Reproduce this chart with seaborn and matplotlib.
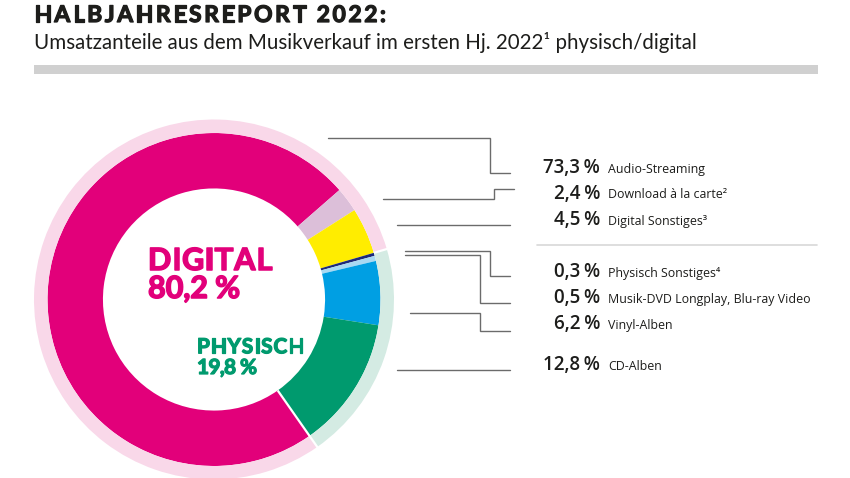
import numpy as np
import matplotlib
matplotlib.use("Agg")
import matplotlib.pyplot as plt
import matplotlib.patheffects as pe
import seaborn as sns

# data
categories = ["Audio-Streaming", "Download à la carte²", "Digital Sonstiges³",
              "Physisch Sonstiges⁴", "Musik-DVD Longplay, Blu-ray Video", "Vinyl-Alben", "CD-Alben"]
shares = [73.3, 2.4, 4.5, 0.3, 0.5, 6.2, 12.8]
groups = ["digital", "digital", "digital", "physisch", "physisch", "physisch", "physisch"]
share_labels = ["73,3\u2009%", "2,4\u2009%", "4,5\u2009%", "0,3\u2009%", "0,5\u2009%", "6,2\u2009%", "12,8\u2009%"]
group_names = ["DIGITAL", "PHYSISCH"]
group_labels = ["80,2 %", "19,8 %"]

# styles
seg_colors = ["#e2007a", "#dcbfd9", "#ffed00", "#1d2a7a", "#a9d9f2", "#009fe3", "#009a6e"]
ring_colors = ["#f9d8e9", "#d4ebe3"]
text_dark = "#1d1d1b"
line_gray = "#6b6b6b"
start = -55

# layout (pixels, y down)
W, H = 850, 478
cx, cy, R = 214, 299.5, 180
r_main = 0.925
r_hole = 0.617
label_baselines = [172.7, 198.5, 225, 276.5, 302.7, 328.5, 370]
leaders = [
    [(328, 138), (490, 138), (490, 172.7), (510, 172.7)],
    [(383, 199), (494, 199), (494, 189), (514, 189)],
    [(397, 225), (510, 225)],
    [(405, 251.3), (490, 251.3), (490, 276), (510, 276)],
    [(405, 255.3), (480, 255.3), (480, 302.7), (510, 302.7)],
    [(410, 313.3), (480, 313.3), (480, 330.7), (510, 330.7)],
    [(397, 370), (510, 370)],
]
lbl_font = ["Open Sans", "DejaVu Sans"]

sns.set_theme(style="white")
plt.rcParams["font.family"] = ["Lato", "DejaVu Sans"]

fig = plt.figure(figsize=(W / 100, H / 100), dpi=100)
fig.patch.set_facecolor("white")

ax_pie = fig.add_axes([(cx - R) / W, (H - cy - R) / H, 2 * R / W, 2 * R / H])
ax_pie.pie(shares, colors=seg_colors, startangle=start, counterclock=False,
           radius=r_main, wedgeprops=dict(width=r_main - r_hole, linewidth=0))
totals = [sum(s for s, g in zip(shares, groups) if g == "digital"),
          sum(s for s, g in zip(shares, groups) if g == "physisch")]
ax_pie.pie(totals[::-1], colors=ring_colors[::-1], startangle=start, counterclock=True,
           radius=1.0, wedgeprops=dict(width=1.0 - r_main, linewidth=0))

# white gaps at the digital / physisch boundaries
b1 = np.deg2rad(start)
b2 = np.deg2rad(start + totals[1] / 100 * 360)
ax_pie.plot([r_hole * np.cos(b1), 1.01 * np.cos(b1)], [r_hole * np.sin(b1), 1.01 * np.sin(b1)],
            color="white", lw=1.6, solid_capstyle="butt")
ax_pie.plot([r_main * np.cos(b2), 1.01 * np.cos(b2)], [r_main * np.sin(b2), 1.01 * np.sin(b2)],
            color="white", lw=1.6, solid_capstyle="butt")
ax_pie.set_xlim(-1, 1)
ax_pie.set_ylim(-1, 1)
ax_pie.set_aspect("equal")
ax_pie.axis("off")

ax = fig.add_axes([0, 0, 1, 1])
ax.set_xlim(0, W)
ax.set_ylim(H, 0)
ax.axis("off")
ax.patch.set_alpha(0)
renderer = fig.canvas.get_renderer()


def text_width(s, **kw):
    t = ax.text(0, 0, s + "H", **kw)
    w = t.get_window_extent(renderer).width
    t.remove()
    return w


def tracked_text(x, y, s, target_w, **kw):
    # spread the letters so the line gets the wide tracking of the original
    hw = text_width("", **kw)
    pos = [text_width(s[:i], **kw) - hw for i in range(len(s) + 1)]
    extra = (target_w - pos[-1]) / (len(s) - 1)
    for i, ch in enumerate(s):
        ax.text(x + pos[i] + i * extra, y, ch, va="baseline", ha="left", **kw)


bold_fx = lambda c, w: [pe.withStroke(linewidth=w, foreground=c)]

# header
tracked_text(34, 22, "HALBJAHRESREPORT 2022:", 352, fontsize=16.5, fontweight="bold",
             color=text_dark, path_effects=bold_fx(text_dark, 0.9))
ax.text(34, 48.5, "Umsatzanteile aus dem Musikverkauf im ersten Hj. 2022¹ physisch/digital",
        fontsize=14.8, color=text_dark, va="baseline", ha="left")
ax.add_patch(plt.Rectangle((34, 65), 784, 9, color="#d0d0d0", lw=0))

# center labels
c_d, c_p = seg_colors[0], seg_colors[6]
tracked_text(148, 270, group_names[0], 124, fontsize=22, fontweight="bold", color=c_d,
             path_effects=bold_fx(c_d, 1.1))
tracked_text(148, 298, group_labels[0], 92, fontsize=22, fontweight="bold", color=c_d,
             path_effects=bold_fx(c_d, 1.1))
tracked_text(197, 353.3, group_names[1], 107, fontsize=15, fontweight="bold", color=c_p,
             path_effects=bold_fx(c_p, 0.9))
tracked_text(197, 374, group_labels[1], 60, fontsize=15, fontweight="bold", color=c_p,
             path_effects=bold_fx(c_p, 0.9))

# leader lines and labels
for pts in leaders:
    xs, ys = zip(*pts)
    ax.plot(xs, ys, color=line_gray, lw=1.0, solid_joinstyle="miter")
for name, lab, yb in zip(categories, share_labels, label_baselines):
    ax.text(600, yb, lab, fontsize=13.5, fontweight="semibold", color=text_dark,
            ha="right", va="baseline", family=lbl_font)
    ax.text(608, yb, name, fontsize=8.9, color=text_dark, ha="left", va="baseline",
            family=lbl_font)
ax.plot([537, 817], [245, 245], color="#d8d8d8", lw=1.2)

fig.savefig("out.png", dpi=100, facecolor="white")
